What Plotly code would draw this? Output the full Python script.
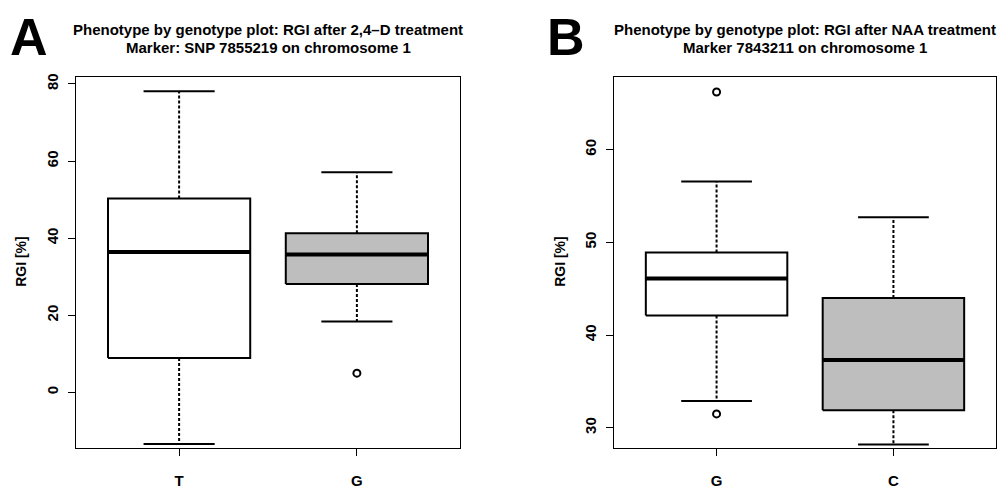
import plotly.graph_objects as go

# ---------------- data ----------------
# Panel A: RGI after 2,4-D treatment, marker SNP 7855219
a_groups = ["T", "G"]
a_lower = [-13.4, 18.4]
a_q1 = [8.9, 28.1]
a_median = [36.4, 35.8]
a_q3 = [50.3, 41.3]
a_upper = [78.1, 57.1]
a_outliers = [[], [5.0]]
a_fill = ["#FFFFFF", "#BEBEBE"]

# Panel B: RGI after NAA treatment, marker 7843211
b_groups = ["G", "C"]
b_lower = [32.9, 28.2]
b_q1 = [42.1, 31.9]
b_median = [46.1, 37.3]
b_q3 = [48.9, 44.0]
b_upper = [56.55, 52.7]
b_outliers = [[66.2, 31.5], []]
b_fill = ["#FFFFFF", "#BEBEBE"]

a_yticks = [0, 20, 40, 60, 80]
b_yticks = [30, 40, 50, 60]

FONT = "Liberation Sans, Arial, Helvetica, sans-serif"

fig = go.Figure()

BOX_HALF = 0.4
STAPLE_HALF = 0.2


def add_panel(xa, ya, groups, lower, q1, med, q3, upper, outl, fills):
    for i, g in enumerate(groups):
        x = i + 1
        # box
        fig.add_trace(go.Scatter(
            x=[x - BOX_HALF, x + BOX_HALF, x + BOX_HALF, x - BOX_HALF, x - BOX_HALF],
            y=[q1[i], q1[i], q3[i], q3[i], q1[i]],
            mode="lines", fill="toself", fillcolor=fills[i],
            line=dict(color="black", width=2), xaxis=xa, yaxis=ya,
            hoverinfo="skip", showlegend=False))
        # median
        fig.add_trace(go.Scatter(
            x=[x - BOX_HALF, x + BOX_HALF], y=[med[i], med[i]],
            mode="lines", line=dict(color="black", width=4),
            xaxis=xa, yaxis=ya, hoverinfo="skip", showlegend=False))
        # whiskers (dashed)
        for a, b in [(q3[i], upper[i]), (q1[i], lower[i])]:
            fig.add_trace(go.Scatter(
                x=[x, x], y=[a, b], mode="lines",
                line=dict(color="black", width=2, dash="3px,2px"),
                xaxis=xa, yaxis=ya, hoverinfo="skip", showlegend=False))
        # staples
        for v in [upper[i], lower[i]]:
            fig.add_trace(go.Scatter(
                x=[x - STAPLE_HALF, x + STAPLE_HALF], y=[v, v], mode="lines",
                line=dict(color="black", width=2),
                xaxis=xa, yaxis=ya, hoverinfo="skip", showlegend=False))
        # outliers
        if outl[i]:
            fig.add_trace(go.Scatter(
                x=[x] * len(outl[i]), y=outl[i], mode="markers",
                marker=dict(symbol="circle-open", size=7, color="black",
                            line=dict(width=2, color="black")),
                xaxis=xa, yaxis=ya, hoverinfo="skip", showlegend=False))


add_panel("x", "y", a_groups, a_lower, a_q1, a_median, a_q3, a_upper, a_outliers, a_fill)
add_panel("x2", "y2", b_groups, b_lower, b_q1, b_median, b_q3, b_upper, b_outliers, b_fill)

W, H = 998, 489
ydom = [1 - 448 / H, 1 - 74 / H]

axis_common = dict(showline=True, mirror=True, linecolor="black", linewidth=1,
                   ticks="outside", ticklen=7, tickwidth=1, tickcolor="black",
                   showgrid=False, zeroline=False,
                   tickfont=dict(family=FONT, size=15, color="black", weight="bold"))

fig.update_layout(
    width=W, height=H, margin=dict(l=0, r=0, t=0, b=0),
    paper_bgcolor="white", plot_bgcolor="white",
    showlegend=False,
    xaxis=dict(domain=[76 / W, 460 / W], range=[0.42, 2.58],
               tickvals=[1, 2], ticktext=a_groups, anchor="y",
               ticklabelstandoff=12, **axis_common),
    yaxis=dict(domain=ydom, range=[-14.5, 81.7], tickvals=a_yticks,
               tickangle=-90, anchor="x", ticklabelstandoff=4, **axis_common),
    xaxis2=dict(domain=[614 / W, 996 / W], range=[0.42, 2.58],
                tickvals=[1, 2], ticktext=b_groups, anchor="y2",
                ticklabelstandoff=12, **axis_common),
    yaxis2=dict(domain=ydom, range=[27.79, 67.78], tickvals=b_yticks,
                tickangle=-90, anchor="x2", ticklabelstandoff=4, **axis_common),
)

ann = []
# panel letters
ann.append(dict(text="<b>A</b>", x=28.5 / W, y=1 - 33 / H, xref="paper", yref="paper",
                showarrow=False, font=dict(family=FONT, size=52, color="black"),
                xanchor="center", yanchor="middle"))
ann.append(dict(text="<b>B</b>", x=566 / W, y=1 - 33 / H, xref="paper", yref="paper",
                showarrow=False, font=dict(family=FONT, size=52, color="black"),
                xanchor="center", yanchor="middle"))
# titles
titles = [
    (268, "Phenotype by genotype plot: RGI after 2,4\u2013D treatment", "Marker: SNP 7855219 on chromosome 1"),
    (805, "Phenotype by genotype plot: RGI after NAA treatment", "Marker 7843211 on chromosome 1"),
]
for cx, l1, l2 in titles:
    for yy, t in [(26, l1), (44, l2)]:
        ann.append(dict(text=f"<b>{t}</b>", x=cx / W, y=1 - yy / H, xref="paper", yref="paper",
                        showarrow=False, font=dict(family=FONT, size=15, color="black"),
                        xanchor="center", yanchor="middle"))
# y axis titles
for xx in [21, 560]:
    ann.append(dict(text="<b>RGI [%]</b>", x=xx / W, y=1 - 260 / H, xref="paper", yref="paper",
                    showarrow=False, textangle=-90, font=dict(family=FONT, size=14, color="black"),
                    xanchor="center", yanchor="middle"))
fig.update_layout(annotations=ann)

fig.write_html("out.html")
